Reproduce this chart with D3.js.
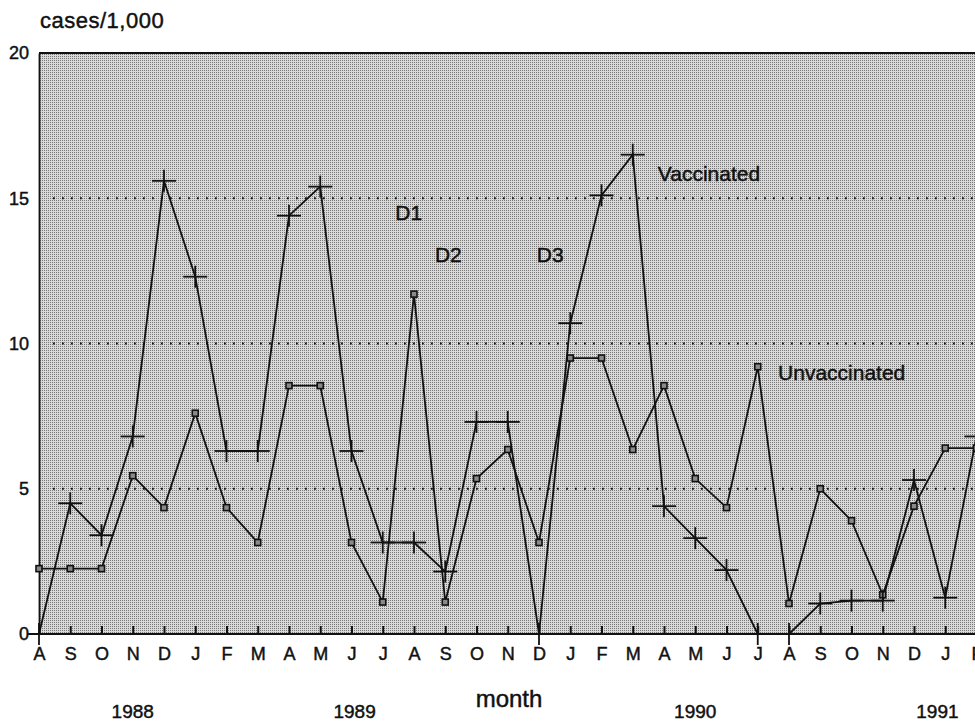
<!DOCTYPE html>
<html>
<head>
<meta charset="utf-8">
<script src="https://cdn.jsdelivr.net/npm/d3@7"></script>
<style>
  html, body { margin: 0; padding: 0; background: #fff; overflow: hidden; }
  svg { display: block; font-family: "Liberation Sans", Arial, Helvetica, sans-serif; }
  svg text { fill: #111; stroke: #111; stroke-width: 0.45px; }
</style>
</head>
<body>
<div id="chart"></div>
<script>
// month letters, Aug 1988 .. Feb 1991
var months = ['A','S','O','N','D','J','F','M','A','M','J','J','A','S','O','N','D',
              'J','F','M','A','M','J','J','A','S','O','N','D','J','F'];

// cases per 1,000
var vaccinated = [0, 4.5, 3.4, 6.8, 15.6, 12.3, 6.3, 6.3, 14.4, 15.4, 6.3, 3.15, 3.15, 2.15,
                  7.3, 7.3, 0, 10.7, 15.1, 16.5, 4.4, 3.3, 2.2, 0, 0, 1.05, 1.15, 1.15, 5.3, 1.25, 6.8];
var unvaccinated = [2.25, 2.25, 2.25, 5.45, 4.35, 7.6, 4.35, 3.15, 8.55, 8.55, 3.15, 1.1, 11.7, 1.1,
                    5.35, 6.35, 3.15, 9.5, 9.5, 6.35, 8.55, 5.35, 4.35, 9.2, 1.05, 5.0, 3.9, 1.35, 4.4, 6.4, 6.4];

var yTicks = [0, 5, 10, 15, 20];
var gridValues = [5, 10, 15];

// year labels, anchored at a month index
var years = [
  { label: '1988', month: 3.0 },
  { label: '1989', month: 10.1 },
  { label: '1990', month: 21.0 },
  { label: '1991', month: 28.75 }
];

// text notes inside the plot (month index, value at baseline)
var notes = [
  { text: 'Vaccinated', month: 19.8, value: 15.6 },
  { text: 'Unvaccinated', month: 23.65, value: 8.75 },
  { text: 'D1', month: 11.4, value: 14.25 },
  { text: 'D2', month: 12.67, value: 12.8 },
  { text: 'D3', month: 15.93, value: 12.8 }
];

var W = 975, H = 721;
var area = { left: 39, top: 53, right: 990, bottom: 634 };

var svg = d3.select('#chart').append('svg')
  .attr('width', W)
  .attr('height', H);

var x = d3.scaleLinear().domain([0, 30]).range([39, 976.5]);
var y = d3.scaleLinear().domain([0, 20]).range([area.bottom, area.top]);

// stippled grey background
var defs = svg.append('defs');
var pat = defs.append('pattern')
  .attr('id', 'stipple')
  .attr('patternUnits', 'userSpaceOnUse')
  .attr('width', 2).attr('height', 2);
pat.append('rect').attr('width', 2).attr('height', 2).attr('fill', '#d9d9d9');
pat.append('rect').attr('width', 1).attr('height', 1).attr('fill', '#777');

svg.append('rect')
  .attr('x', area.left)
  .attr('y', area.top)
  .attr('width', area.right - area.left)
  .attr('height', area.bottom - area.top)
  .attr('fill', 'url(#stipple)');

// dotted grid
svg.append('g')
  .selectAll('line')
  .data(gridValues)
  .enter().append('line')
    .attr('x1', area.left + 14)
    .attr('x2', area.right)
    .attr('y1', function(d) { return y(d); })
    .attr('y2', function(d) { return y(d); })
    .attr('stroke', '#111')
    .attr('stroke-width', 1.8)
    .attr('stroke-dasharray', '1.8,7.2');

// top frame
svg.append('line')
  .attr('x1', area.left).attr('x2', area.right)
  .attr('y1', area.top).attr('y2', area.top)
  .attr('stroke', '#111').attr('stroke-width', 1.8);

// y axis (no ticks; the 0 tick comes from the x axis line)
var yAxis = d3.axisLeft(y)
  .tickValues(yTicks)
  .tickSize(0)
  .tickPadding(10)
  .tickFormat(d3.format('d'));

var gy = svg.append('g')
  .attr('transform', 'translate(' + area.left + ',0)')
  .call(yAxis);
gy.select('.domain').attr('stroke', '#111').attr('stroke-width', 1.8);
gy.selectAll('.tick text').style('font-size', '18px');

// x axis: ticks point into the plot
var xAxis = d3.axisBottom(x)
  .tickValues(d3.range(months.length))
  .tickSizeInner(-8)
  .tickSizeOuter(0)
  .tickPadding(13)
  .tickFormat(function(i) { return months[i]; });

var gx = svg.append('g')
  .attr('transform', 'translate(0,' + area.bottom + ')')
  .call(xAxis);
gx.select('.domain').attr('stroke', '#111').attr('stroke-width', 1.8)
  .attr('d', 'M' + (area.left - 10) + ',0H' + area.right);
gx.selectAll('.tick line').attr('stroke', '#111').attr('stroke-width', 2);
gx.selectAll('.tick text').style('font-size', '18px');

// lines
var lineGen = d3.line()
  .x(function(d, i) { return x(i); })
  .y(function(d) { return y(d); });

svg.append('path')
  .datum(unvaccinated)
  .attr('d', lineGen)
  .attr('fill', 'none')
  .attr('stroke', '#111')
  .attr('stroke-width', 1.8);

svg.append('path')
  .datum(vaccinated)
  .attr('d', lineGen)
  .attr('fill', 'none')
  .attr('stroke', '#111')
  .attr('stroke-width', 1.8);

// square markers
svg.append('g')
  .selectAll('rect')
  .data(unvaccinated)
  .enter().append('rect')
    .attr('x', function(d, i) { return x(i) - 3; })
    .attr('y', function(d) { return y(d) - 3; })
    .attr('width', 6)
    .attr('height', 6)
    .attr('fill', '#8a8a8a')
    .attr('stroke', '#111')
    .attr('stroke-width', 1.6);

// plus markers
var plus = svg.append('g')
  .selectAll('g')
  .data(vaccinated)
  .enter().append('g')
    .attr('transform', function(d, i) { return 'translate(' + x(i) + ',' + y(d) + ')'; });
plus.append('line')
  .attr('x1', -12).attr('x2', 12).attr('y1', 0).attr('y2', 0)
  .attr('stroke', '#111').attr('stroke-width', 1.8);
plus.append('line')
  .attr('x1', 0).attr('x2', 0).attr('y1', -11).attr('y2', 11)
  .attr('stroke', '#111').attr('stroke-width', 1.8);

// notes
svg.append('g')
  .selectAll('text')
  .data(notes)
  .enter().append('text')
    .attr('x', function(d) { return x(d.month); })
    .attr('y', function(d) { return y(d.value); })
    .style('font-size', '21px')
    .text(function(d) { return d.text; });

// titles
svg.append('text')
  .attr('x', 40)
  .attr('y', 28)
  .style('font-size', '22px')
  .style('letter-spacing', '0.5px')
  .text('cases/1,000');

svg.append('text')
  .attr('x', 509)
  .attr('y', 707)
  .attr('text-anchor', 'middle')
  .style('font-size', '24px')
  .text('month');

svg.append('g')
  .selectAll('text')
  .data(years)
  .enter().append('text')
    .attr('x', function(d) { return x(d.month); })
    .attr('y', 718)
    .attr('text-anchor', 'middle')
    .style('font-size', '19px')
    .text(function(d) { return d.label; });
</script>
</body>
</html>
